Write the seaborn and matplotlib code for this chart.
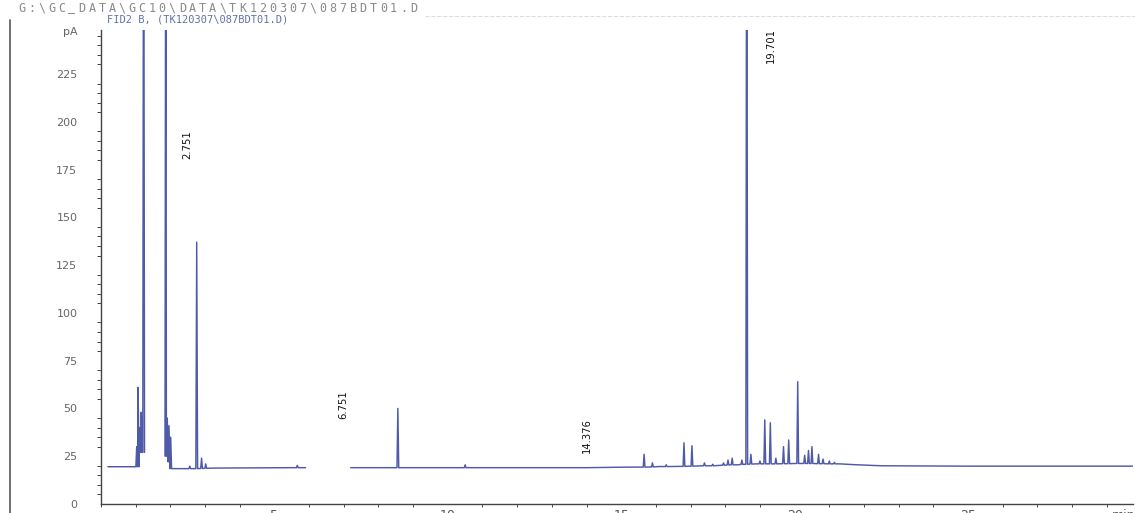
import pandas as pd
import matplotlib
matplotlib.use("Agg")
import matplotlib.pyplot as plt
import seaborn as sns
from matplotlib.lines import Line2D
from matplotlib.ticker import MultipleLocator

# --- data (time in min, signal in pA) ---
base_time = [0.2, 0.9, 2.1, 2.45, 3.3, 5.5, 5.9, 7.2, 8.0, 10.0, 12.0, 14.0, 15.2, 16.1,
             17.5, 18.35, 18.9, 20.0, 21.3, 21.7, 22.5, 25.0, 29.75]
base_level = [19.5, 19.5, 18.5, 18.5, 18.8, 19.0, 19.0, 19.0, 19.0, 19.0, 19.0, 19.0, 19.3, 19.6,
              20.0, 20.5, 21.0, 21.2, 21.0, 20.6, 20.0, 19.8, 19.8]

peak_time = [1.03, 1.07, 1.12, 1.16, 1.23, 1.87, 1.91, 1.96, 2.01, 2.56, 2.76, 2.90,
             3.02, 5.66, 8.56, 10.50, 15.66, 15.90, 16.30, 16.81, 17.04, 17.40, 17.64,
             17.95, 18.08, 18.20, 18.48, 18.62, 18.74, 19.00, 19.14, 19.30, 19.46,
             19.68, 19.83, 20.09, 20.29, 20.40, 20.50, 20.69, 20.82, 21.00, 21.15]
peak_height = [30, 61, 40, 48, 400, 400, 45, 41, 35, 19.8, 137, 24,
               21, 20.2, 50, 20.5, 26, 21.5, 20.5, 32, 30.5, 21.5, 20.8,
               21.5, 23, 24, 23, 400, 26, 22.5, 44, 42.5, 24,
               30, 33.5, 64, 25.5, 28, 30, 26, 23.5, 22.5, 21.8]
peak_foot = [19.5, 19.5, 27, 27, 27, 25, 25, 22, 18.5, 18.5, 18.5, 18.6,
             18.7, 19.0, 19.0, 19.0, 19.3, 19.4, 19.6, 19.7, 19.8, 20.0, 20.0,
             20.3, 20.4, 20.5, 20.7, 20.8, 20.9, 21.0, 21.0, 21.0, 21.0,
             21.1, 21.1, 21.2, 21.2, 21.2, 21.2, 21.1, 21.1, 21.0, 21.0]

# stretches where the printed trace is missing
gap_start = [1.27, 5.95]
gap_end = [1.83, 7.15]

peak_labels = ["2.751", "6.751", "14.376", "19.701"]

y_ticks = [0, 25, 50, 75, 100, 125, 150, 175, 200, 225]
x_ticks = [5, 10, 15, 20, 25]

HALF = 0.025  # half width of a peak in min

rows = list(zip(base_time, base_level))
for t, h, b in zip(peak_time, peak_height, peak_foot):
    rows += [(t - HALF, b), (t, h), (t + HALF, b)]
trace = pd.DataFrame(rows, columns=["time", "signal"]).sort_values("time")
# drop points inside gaps and give each piece its own unit
for g0, g1 in zip(gap_start, gap_end):
    trace = trace[~((trace["time"] > g0) & (trace["time"] < g1))]
trace["piece"] = sum((trace["time"] >= g1).astype(int) for g1 in gap_end)

sns.set_style("white")
plt.rcParams["font.family"] = ["DejaVu Sans"]

fig = plt.figure(figsize=(11.35, 5.13), dpi=100)
ax = fig.add_axes([101 / 1135, 9 / 513, 1 - 101 / 1135 - 0.002, (504 - 30) / 513])

sns.lineplot(data=trace, x="time", y="signal", units="piece", estimator=None,
             sort=False, color="#4f5aa8", lw=1.05, ax=ax)

ax.set_xlim(0, 29.75)
ax.set_ylim(0, 248)
ax.set_xlabel("")
ax.set_ylabel("")

for side in ["top", "right"]:
    ax.spines[side].set_visible(False)
for side in ["left", "bottom"]:
    ax.spines[side].set_color("#444444")
    ax.spines[side].set_linewidth(1.0)

ax.set_yticks(y_ticks + [247.5])
ax.set_yticklabels([str(v) for v in y_ticks] + ["pA"])
ax.yaxis.set_minor_locator(MultipleLocator(5))
ax.tick_params(axis="y", which="major", direction="out", length=6, width=0.8,
               pad=11, labelsize=8, colors="#444444", labelcolor="#666666")
ax.tick_params(axis="y", which="minor", direction="out", length=3, width=0.7,
               colors="#444444", left=True)

ax.set_xticks(x_ticks + [29.5])
ax.set_xticklabels([str(v) for v in x_ticks] + ["min"])
ax.xaxis.set_minor_locator(MultipleLocator(1))
ax.tick_params(axis="x", which="major", direction="out", length=3, width=0.8,
               pad=0.5, labelsize=9, colors="#444444", labelcolor="#555555")
ax.tick_params(axis="x", which="minor", direction="out", length=2, width=0.7,
               colors="#444444", bottom=True)

# retention time labels
label_spots = [(2.50, 188), (6.98, 52), (14.0, 36), (19.31, 240)]
for txt, (lx, ly) in zip(peak_labels, label_spots):
    ax.text(lx, ly, txt, rotation=90, ha="center", va="center", fontsize=8,
            color="#111111", fontstretch="condensed")

# header of the printout: first line is printed widely spaced
path_line = "G:\\GC_DATA\\GC10\\DATA\\TK120307\\087BDT01.D"
for i, ch in enumerate(path_line):
    fig.text((18 + i * 10.05) / 1135, 1 - 8 / 513, ch, fontsize=8.5,
             family="DejaVu Sans Mono", color="#8a8a8a", va="center", ha="left")
fig.text(107 / 1135, 1 - 20 / 513, "FID2 B, (TK120307\\087BDT01.D)",
         fontsize=7.5, family="DejaVu Sans Mono", color="#6272a8", va="center")

fig.add_artist(Line2D([10 / 1135, 10 / 1135], [0, 1 - 20 / 513], color="#555555", lw=1.2))
fig.add_artist(Line2D([425 / 1135, 1], [1 - 16 / 513, 1 - 16 / 513], color="#dddddd",
                      lw=0.8, ls="--"))

fig.savefig("out.png", dpi=100)
plt.close(fig)
